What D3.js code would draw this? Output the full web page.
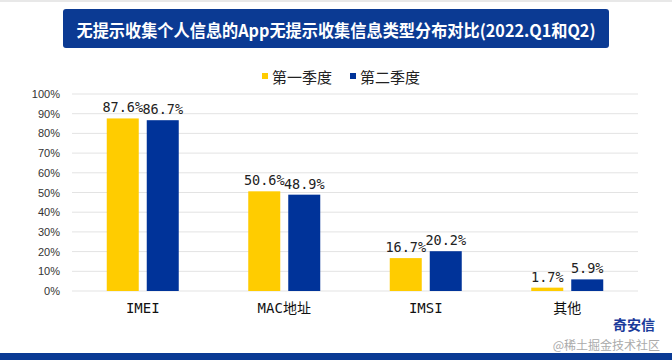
<!DOCTYPE html>
<html><head><meta charset="utf-8">
<script src="https://cdn.jsdelivr.net/npm/d3@7"></script>
<style>body{margin:0;background:#fff;}svg{display:block;}</style>
</head><body>
<svg id="c" width="672" height="360"></svg>
<script>
const categories = ["IMEI", "MAC地址", "IMSI", "其他"];
const seriesNames = ["第一季度", "第二季度"];
const q1 = [87.6, 50.6, 16.7, 1.7];
const q2 = [86.7, 48.9, 20.2, 5.9];
const yTicks = [0,10,20,30,40,50,60,70,80,90,100];
const colors = ["#FFCC00", "#003399"];
const title = "无提示收集个人信息的App无提示收集信息类型分布对比(2022.Q1和Q2)";

const svg = d3.select("#c");
const cjk = "'Noto Sans CJK SC','Noto Sans',sans-serif";
const mono = "'DejaVu Sans Mono','Noto Sans CJK SC',monospace";

// top gray strip
svg.append("rect").attr("x",0).attr("y",0).attr("width",672).attr("height",2).attr("fill","#e8e8e8");
// bottom bar
svg.append("rect").attr("x",0).attr("y",353).attr("width",672).attr("height",7).attr("fill","#0a3a94");

// title box
svg.append("rect").attr("x",63).attr("y",9).attr("width",546).attr("height",39).attr("rx",3).attr("fill","#0b3a93");
svg.append("text").attr("x",336).attr("y",29).attr("text-anchor","middle").attr("dominant-baseline","central")
  .attr("fill","#fff").attr("font-family",cjk).attr("font-weight","bold").attr("font-size",17)
  .attr("textLength",519).attr("lengthAdjust","spacingAndGlyphs").text(title);

const x0 = d3.scaleBand().domain(categories).range([72,638]);
const x1 = d3.scaleBand().domain([0,1]).range([0,72]).paddingInner(0.2);
const y = d3.scaleLinear().domain([0,100]).range([291,94]);

// grid
svg.append("g").selectAll("line").data(yTicks).join("line")
  .attr("x1",72).attr("x2",638).attr("y1",d=>y(d)).attr("y2",d=>y(d))
  .attr("stroke","#e3e3e3").attr("stroke-width",1);

// y axis labels
const yAxis = d3.axisLeft(y).tickValues(yTicks).tickFormat(d=>d+"%").tickSize(0).tickPadding(0);
const ya = svg.append("g").attr("transform","translate(60,0)").call(yAxis);
ya.select(".domain").remove();
ya.selectAll("text").attr("font-family","'Liberation Sans',Arial,sans-serif").attr("font-size",11).attr("fill","#333");

// x axis labels
const xAxis = d3.axisBottom(x0).tickSize(0).tickPadding(0);
const xa = svg.append("g").attr("transform","translate(0,303)").call(xAxis);
xa.select(".domain").remove();
xa.selectAll("text").attr("font-family",mono).attr("font-size",14).attr("fill","#111");

const data = categories.map((c,i)=>({c, v:[q1[i], q2[i]]}));
const groups = svg.append("g").selectAll("g").data(data).join("g")
  .attr("transform", d=>`translate(${x0(d.c)+x0.bandwidth()/2-36},0)`);
groups.selectAll("rect").data(d=>d.v.map((v,k)=>({v,k}))).join("rect")
  .attr("x",d=>x1(d.k)).attr("width",x1.bandwidth())
  .attr("y",d=>y(d.v)).attr("height",d=>y(0)-y(d.v))
  .attr("fill",d=>colors[d.k]);
groups.selectAll("text").data(d=>d.v.map((v,k)=>({v,k}))).join("text")
  .attr("x",d=>x1(d.k)+x1.bandwidth()/2).attr("y",d=>y(d.v)-6)
  .attr("text-anchor","middle").attr("font-family",mono)
  .attr("font-size",13.5).attr("fill","#222").text(d=>d.v.toFixed(1)+"%");

// legend
const leg = [{x:262},{x:350}];
seriesNames.forEach((n,i)=>{
  svg.append("rect").attr("x",leg[i].x).attr("y",73).attr("width",6).attr("height",6).attr("fill",colors[i]);
  svg.append("text").attr("x",leg[i].x+10).attr("y",76).attr("dominant-baseline","central")
    .attr("font-family",cjk).attr("font-size",15).attr("fill","#222").text(n);
});

// watermark / logo
svg.append("text").attr("x",655).attr("y",330).attr("text-anchor","end").attr("font-family",cjk)
  .attr("font-weight","bold").attr("font-size",14).attr("fill","#1a3a9a").text("奇安信");
svg.append("text").attr("x",660).attr("y",350).attr("text-anchor","end").attr("font-family",cjk)
  .attr("font-size",12).attr("fill","#aaa").text("@稀土掘金技术社区");
</script>
</body></html>
